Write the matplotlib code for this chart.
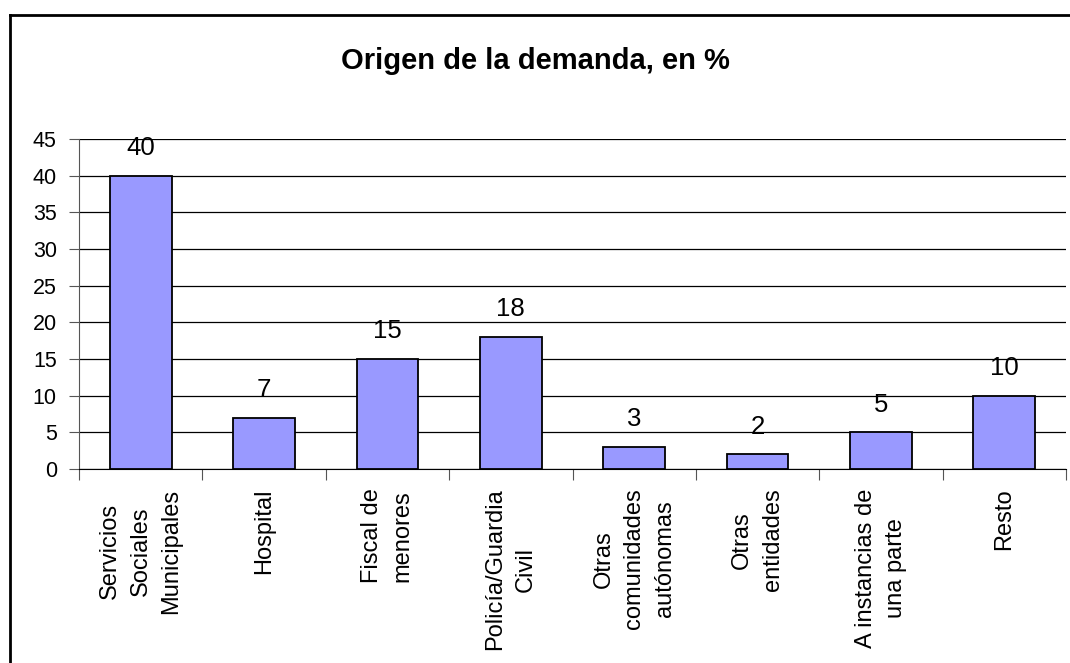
import numpy as np
import matplotlib.pyplot as plt
from matplotlib.lines import Line2D

plt.rcParams["font.family"] = ["Liberation Sans", "DejaVu Sans"]

CATEGORIES = [
    "Servicios\nSociales\nMunicipales",
    "Hospital",
    "Fiscal de\nmenores",
    "Policía/Guardia\nCivil",
    "Otras\ncomunidades\nautónomas",
    "Otras\nentidades",
    "A instancias de\nuna parte",
    "Resto",
]
VALUES = [40, 7, 15, 18, 3, 2, 5, 10]
YTICKS = [0, 5, 10, 15, 20, 25, 30, 35, 40, 45]

W, H = 1070, 663
fig = plt.figure(figsize=(W / 100, H / 100), dpi=100)
ax = fig.add_axes([79 / W, 1 - 469 / H, (1066 - 79) / W, (469 - 139) / H])

x = np.arange(len(VALUES))
ax.bar(x, VALUES, width=0.5, color="#9999FF", edgecolor="black", linewidth=1.3, zorder=3)

for xi, v in zip(x, VALUES):
    ax.annotate(str(v), (xi, v), xytext=(0, 15), textcoords="offset points",
                ha="center", va="baseline", fontsize=18.5)

ax.set_xlim(-0.5, len(VALUES) - 0.5)
ax.set_ylim(0, 45)
ax.set_yticks(YTICKS)
ax.tick_params(axis="y", labelsize=15.5, length=7, pad=9, color="#555555")
ax.yaxis.grid(True, color="black", linewidth=0.9)
ax.set_axisbelow(True)

# tick marks at category boundaries, labels at centers
ax.set_xticks(np.arange(len(VALUES) + 1) - 0.5)
ax.set_xticklabels([])
ax.tick_params(axis="x", which="major", length=8, color="#555555")
ax.set_xticks(x, minor=True)
ax.set_xticklabels(CATEGORIES, minor=True, rotation=90, fontsize=17,
                   multialignment="center", linespacing=1.5)
ax.tick_params(axis="x", which="minor", length=0, pad=14)

for s in ["top", "right"]:
    ax.spines[s].set_visible(False)
ax.spines["left"].set_color("#555555")
ax.spines["bottom"].set_color("black")

fig.text(535 / W, 1 - 61 / H, "Origen de la demanda, en %", ha="center", va="center",
         fontsize=21, fontweight="bold")

# outer chart frame (left and top edges visible)
fig.add_artist(Line2D([10 / W, 10 / W], [0, 1 - 15 / H], color="black", linewidth=2,
                      transform=fig.transFigure))
fig.add_artist(Line2D([10 / W, 1], [1 - 15 / H, 1 - 15 / H], color="black", linewidth=2,
                      transform=fig.transFigure))

fig.savefig("out.png", dpi=100)
